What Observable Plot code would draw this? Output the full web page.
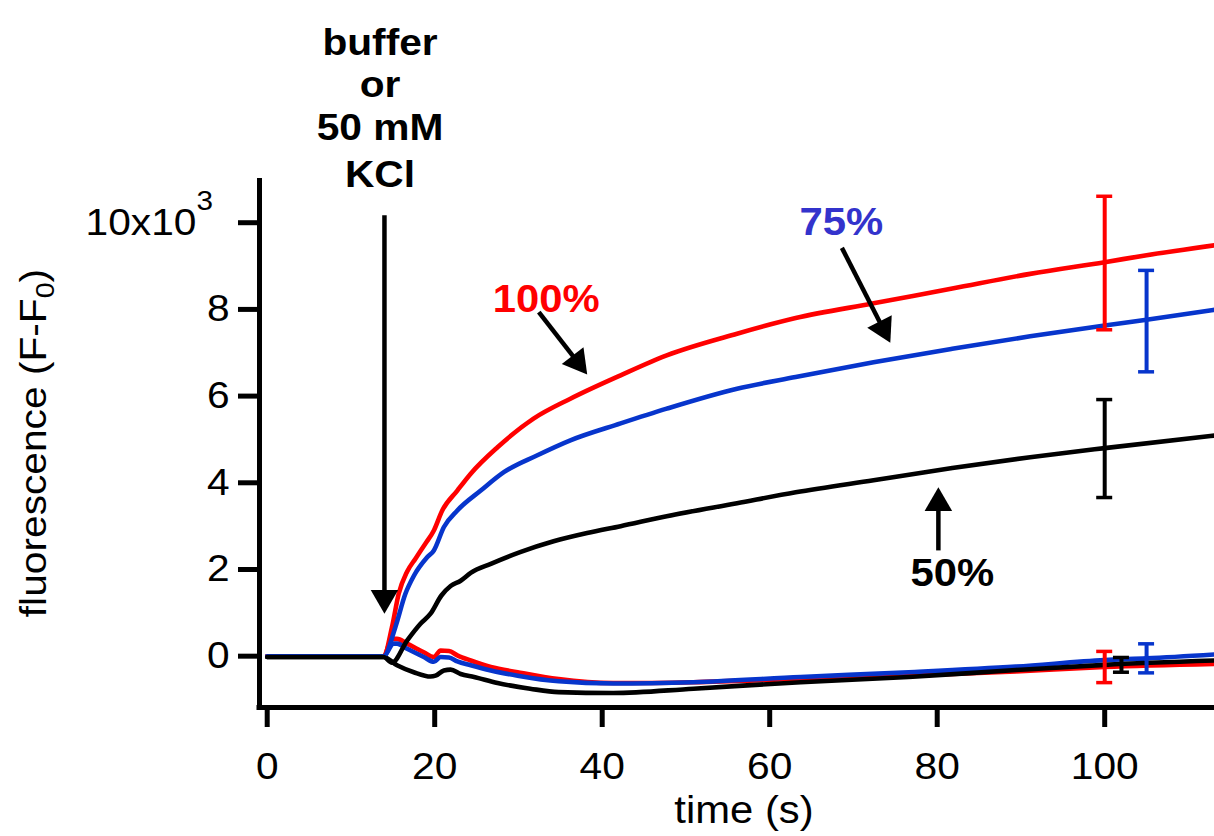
<!DOCTYPE html>
<html>
<head>
<meta charset="utf-8">
<script src="https://cdn.jsdelivr.net/npm/d3@7"></script>
<script src="https://cdn.jsdelivr.net/npm/@observablehq/plot@0.6"></script>
<style>
html, body { margin: 0; padding: 0; background: #fff; }
#chart svg { display: block; }
</style>
</head>
<body>
<div id="chart"></div>
<script>
// ---------------- data ----------------
const xTicks = [0, 20, 40, 60, 80, 100];
const yTicks = [0, 2, 4, 6, 8, 10];
const yTickLabels = ["0", "2", "4", "6", "8", "10x10"];

const concDomain = ["100%", "75%", "50%"];
const concColors = ["#ff0000", "#0735cc", "#000000"];

// buffer traces (lower)
const buf100T = [0, 7, 13.9, 14.9, 15.5, 16.7, 18.7, 19.9, 20.7, 21.7, 22.7, 24.3, 26.7, 29.9, 34.8, 41.3, 50.9, 63.7, 76.6, 89.4, 100, 113.1];
const buf100V = [0, 0, 0, 0.4, 0.4, 0.29, 0.09, -0.02, 0.13, 0.12, 0.02, -0.1, -0.25, -0.37, -0.53, -0.62, -0.6, -0.52, -0.45, -0.35, -0.25, -0.18];
const buf75T = [0, 7, 13.9, 15.1, 15.5, 16.7, 18.7, 19.9, 20.7, 21.7, 22.7, 24.3, 26.7, 29.9, 34.8, 41.3, 50.9, 63.7, 76.6, 89.4, 100, 105, 113.1];
const buf75V = [0, 0, 0, 0.29, 0.29, 0.17, -0.02, -0.13, -0.02, -0.03, -0.12, -0.21, -0.33, -0.45, -0.58, -0.63, -0.6, -0.48, -0.37, -0.24, -0.09, -0.05, 0.04];
const buf50T = [0, 7, 13.9, 15.5, 17.5, 19.5, 20.1, 21.1, 21.9, 23.1, 24.7, 27.5, 31.4, 34.8, 41.3, 50.9, 63.7, 76.6, 89.4, 100, 113.1];
const buf50V = [-0.02, -0.02, -0.02, -0.21, -0.37, -0.47, -0.45, -0.33, -0.31, -0.41, -0.48, -0.62, -0.75, -0.83, -0.85, -0.75, -0.6, -0.48, -0.32, -0.2, -0.1];

// 50 mM KCl traces (upper)
const kcl100T = [0, 7, 13.9, 14.9, 15.7, 16.7, 17.7, 18.9, 19.9, 20.9, 22.7, 24.3, 27.5, 31.8, 36.2, 42.2, 47.7, 56.1, 63.1, 72.4, 81.8, 91.1, 100, 105, 113.1];
const kcl100V = [0, 0, 0, 0.67, 1.44, 1.95, 2.25, 2.6, 2.9, 3.36, 3.82, 4.21, 4.82, 5.48, 5.94, 6.48, 6.94, 7.44, 7.8, 8.14, 8.48, 8.82, 9.09, 9.25, 9.48];
const kcl75T = [0, 7, 13.9, 15.3, 16.5, 17.5, 19.1, 19.9, 21.1, 22.7, 25.5, 28.3, 32.2, 36.2, 42.2, 47.7, 56.1, 63.1, 72.4, 81.8, 91.1, 100, 105, 113.1];
const kcl75V = [0, 0, 0, 0.67, 1.44, 1.85, 2.28, 2.44, 2.98, 3.36, 3.82, 4.25, 4.63, 4.98, 5.37, 5.71, 6.17, 6.44, 6.78, 7.09, 7.38, 7.63, 7.76, 7.99];
const kcl50T = [0, 7, 13.9, 14.9, 16.7, 18.3, 19.5, 20.8, 21.9, 23.1, 24.3, 26.7, 30.2, 34.2, 38.2, 42.2, 47.7, 56.1, 63.1, 72.4, 81.8, 91.1, 100, 113.1];
const kcl50V = [-0.02, -0.02, -0.02, -0.15, 0.36, 0.75, 0.98, 1.4, 1.62, 1.74, 1.92, 2.13, 2.4, 2.65, 2.84, 3.0, 3.23, 3.53, 3.78, 4.06, 4.34, 4.59, 4.8, 5.09];

// error bars (mean ± error)
const errConc = ["100%", "75%", "50%", "100%", "75%", "50%"];
const errTime = [100, 105, 100, 100, 105, 102];
const errMean = [9.07, 7.73, 4.79, -0.25, -0.05, -0.2];
const errHalf = [1.54, 1.17, 1.13, 0.36, 0.335, 0.17];

// annotation texts
const addLines = ["buffer", "or", "50 mM", "KCl"];
const pctLabels = ["100%", "75%", "50%"];

// ---------------- layout ----------------
const W = 1214, H = 836;
const mL = 259, mR = 0, mT = 178, mB = 129;
const xDomain = [-0.92, 113.11];
const yDomain = [-1.184, 11.02];
const FONT = "'Liberation Sans', Arial, Helvetica, sans-serif";
const xs = d3.scaleLinear(xDomain, [mL, W - mR]);
const ys = d3.scaleLinear(yDomain, [H - mB, mT]);

// annotation anchor positions (data units)
const addX = 13.47;
const addY = [13.88, 12.89, 11.9, 10.83];
const pctX = [33.3, 68.55, 81.8];
const pctY = [7.94, 9.71, 1.63];
const pctFill = ["#ff0000", "#3333cc", "#000000"];
const arrowFrom = [[14.0, 10.17], [32.43, 7.94], [68.62, 9.42], [80.14, 2.44]];
const arrowTo = [[14.0, 0.98], [38.21, 6.5], [74.4, 7.23], [80.14, 3.9]];

// ---------------- build rows ----------------
const series = [
  {name: "buffer 100%", conc: "100%", t: buf100T, v: buf100V},
  {name: "buffer 75%", conc: "75%", t: buf75T, v: buf75V},
  {name: "buffer 50%", conc: "50%", t: buf50T, v: buf50V},
  {name: "KCl 100%", conc: "100%", t: kcl100T, v: kcl100V},
  {name: "KCl 75%", conc: "75%", t: kcl75T, v: kcl75V},
  {name: "KCl 50%", conc: "50%", t: kcl50T, v: kcl50V}
];
const rows = series.flatMap(s => s.t.map((t, i) => ({series: s.name, conc: s.conc, t, v: s.v[i]})));

const pxPerX = xs(1) - xs(0);
const capHalf = 8 / pxPerX;
const errRows = errTime.map((t, i) => ({
  conc: errConc[i], t, lo: errMean[i] - errHalf[i], hi: errMean[i] + errHalf[i]
}));
const capRows = errRows.flatMap(d => [
  {conc: d.conc, x1: d.t - capHalf, x2: d.t + capHalf, y: d.lo},
  {conc: d.conc, x1: d.t - capHalf, x2: d.t + capHalf, y: d.hi}
]);

const TRI_R = 10.2;
const triA = Math.sqrt(TRI_R * TRI_R * Math.PI / (3 * Math.sqrt(3)));
const arrows = arrowFrom.map((f, i) => {
  const [x1, y1] = f, [x2, y2] = arrowTo[i];
  const px1 = xs(x1), py1 = ys(y1), px2 = xs(x2), py2 = ys(y2);
  const ang = Math.atan2(py2 - py1, px2 - px1);
  const ex = px2 - 12 * Math.cos(ang), ey = py2 - 12 * Math.sin(ang);
  return {x1, y1, x2: xs.invert(ex), y2: ys.invert(ey), tx: x2, ty: y2, ang};
});

const addRows = addLines.map((s, i) => ({s, x: addX, y: addY[i]}));

const marks = [
  // axis lines
  Plot.ruleX([xDomain[0]], {stroke: "#000", strokeWidth: 5}),
  Plot.ruleY([yDomain[0]], {stroke: "#000", strokeWidth: 5, strokeLinecap: "square"}),
  Plot.axisX({ticks: xTicks, tickSize: 20, tickPadding: 25, strokeWidth: 5, fontSize: 37, label: null, tickFormat: d => String(d)}),
  Plot.axisY({ticks: yTicks, tickSize: 21, tickPadding: 9, strokeWidth: 5, fontSize: 37, label: null,
    tickFormat: d => yTickLabels[yTicks.indexOf(d)]}),
  // traces
  Plot.line(rows, {x: "t", y: "v", z: "series", stroke: "conc", strokeWidth: 4.6, strokeLinejoin: "round", curve: "monotone-x"}),
  // error bars
  Plot.ruleX(errRows, {x: "t", y1: "lo", y2: "hi", stroke: "conc", strokeWidth: 4}),
  Plot.ruleY(capRows, {x1: "x1", x2: "x2", y: "y", stroke: "conc", strokeWidth: 3.5}),
  // arrows
  Plot.link(arrows, {x1: "x1", y1: "y1", x2: "x2", y2: "y2", stroke: "#000", strokeWidth: 4.5}),
  ...arrows.map(a => Plot.dot([a], {
    x: "tx", y: "ty", symbol: "triangle", r: TRI_R, fill: "#000", stroke: "none",
    rotate: a.ang * 180 / Math.PI + 90,
    dx: -2 * triA * Math.cos(a.ang), dy: -2 * triA * Math.sin(a.ang)
  })),
  // annotations
  Plot.text(addRows, {x: "x", y: "y", text: "s", fontSize: 37, fontWeight: "bold", lineAnchor: "bottom", fill: "#000"}),
  ...pctLabels.map((s, i) => Plot.text([s], {x: () => pctX[i], y: () => pctY[i], text: d => d,
    fontSize: 38, fontWeight: "bold", lineAnchor: "bottom", fill: pctFill[i]})),
  // axis titles
  Plot.text(["time (s)"], {frameAnchor: "bottom", lineAnchor: "bottom", textAnchor: "middle", dy: 115, dx: 7, fontSize: 38, fill: "#000"}),
  Plot.text(["fluorescence (F-F0)"], {frameAnchor: "left", lineAnchor: "middle", textAnchor: "middle", dx: -225, rotate: -90, fontSize: 37, fill: "#000"})
];

const svg = Plot.plot({
  width: W, height: H,
  marginLeft: mL, marginRight: mR, marginTop: mT, marginBottom: mB,
  x: {domain: xDomain},
  y: {domain: yDomain},
  color: {domain: concDomain, range: concColors},
  style: {fontFamily: FONT, background: "#fff", color: "#000", overflow: "visible"},
  marks
});
document.getElementById("chart").append(svg);

// superscript / subscript
const NS = "http://www.w3.org/2000/svg";
for (const t of svg.querySelectorAll("text")) {
  if (t.textContent === "10x10") {
    const sup = document.createElementNS(NS, "tspan");
    sup.setAttribute("dy", "-25"); sup.setAttribute("font-size", "27"); sup.textContent = "3";
    const pad = document.createElementNS(NS, "tspan");
    pad.setAttribute("font-size", "27"); pad.textContent = "\u00a0\u00a0";
    t.append(sup, pad);
  } else if (t.textContent === "fluorescence (F-F0)") {
    t.textContent = "fluorescence (F-F";
    const sub = document.createElementNS(NS, "tspan");
    sub.setAttribute("dy", "8"); sub.setAttribute("font-size", "26"); sub.textContent = "0";
    const close = document.createElementNS(NS, "tspan");
    close.setAttribute("dy", "-8"); close.textContent = ")";
    t.append(sub, close);
  }
}
// the reference's lettering is slightly wide: stretch each label horizontally
for (const t of svg.querySelectorAll("text")) {
  const w = t.getComputedTextLength();
  if (w > 0) {
    t.setAttribute("textLength", (w * 1.1).toFixed(1));
    t.setAttribute("lengthAdjust", "spacingAndGlyphs");
  }
}
</script>
</body>
</html>
